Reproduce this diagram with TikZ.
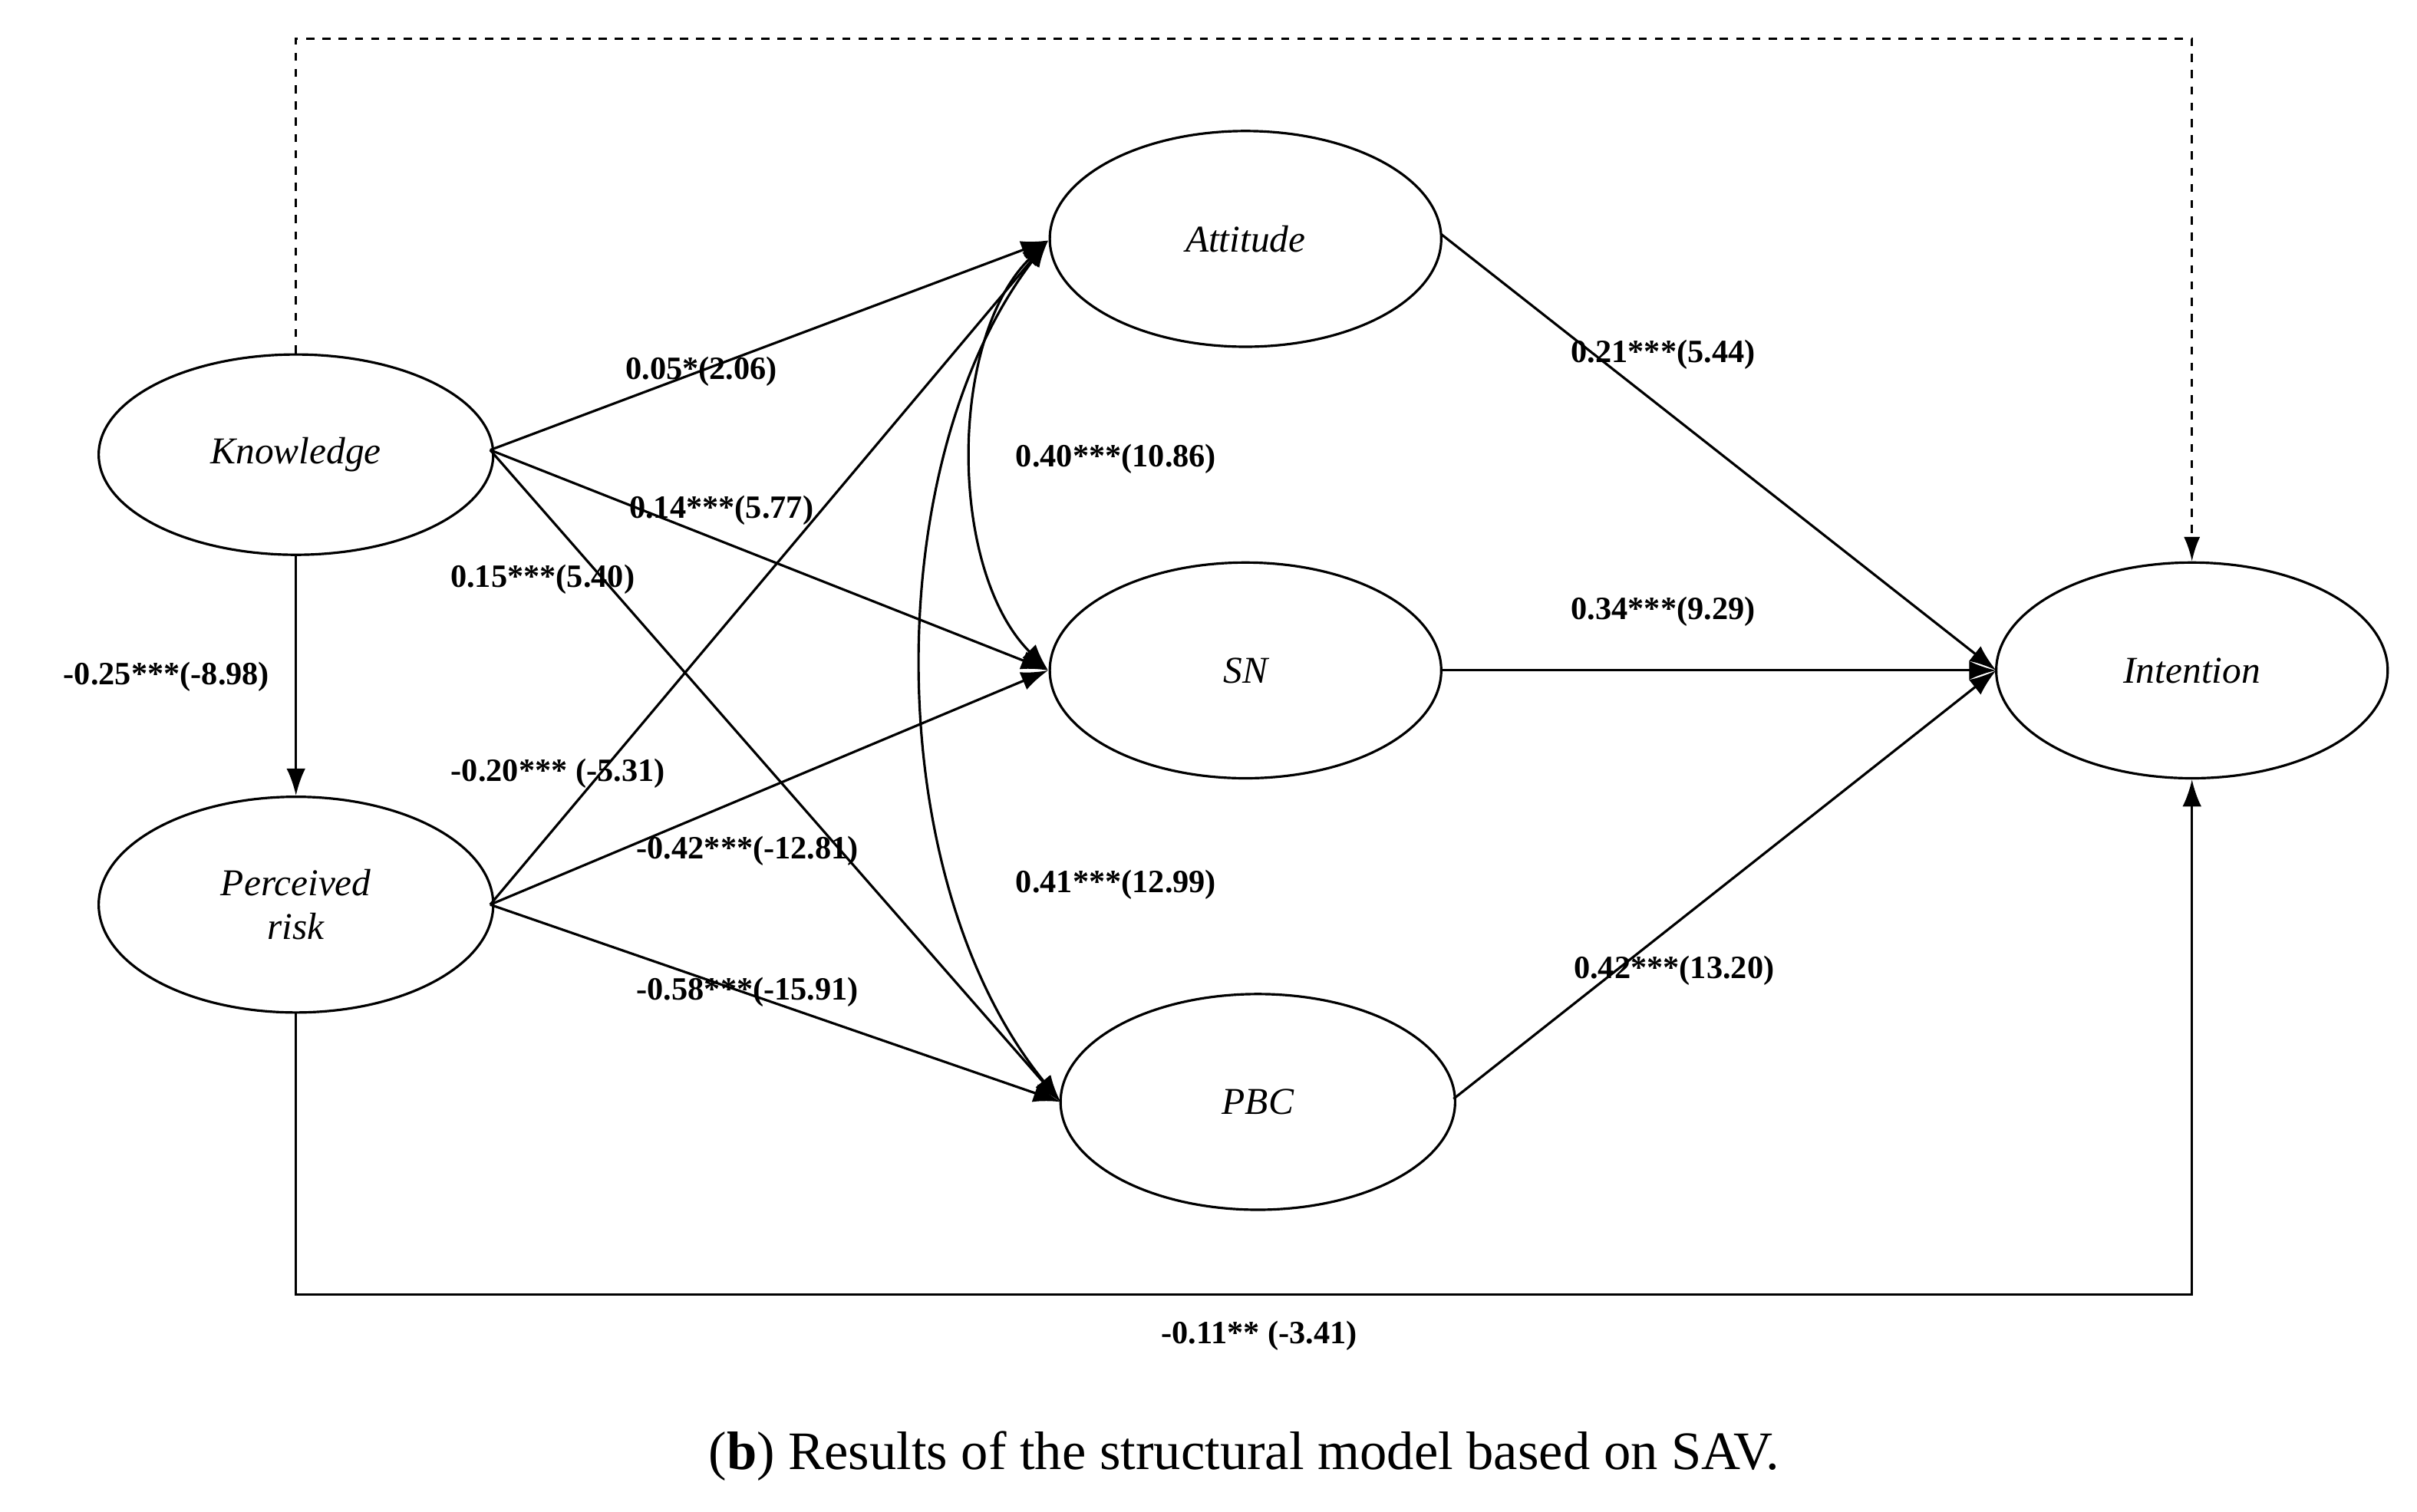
\documentclass[tikz,border=0pt]{standalone}
\usepackage{fontspec}
\setmainfont{Liberation Serif}
\usetikzlibrary{shapes.geometric,arrows.meta}
\begin{document}
\begin{tikzpicture}[x=0.02cm,y=-0.02cm,
  lv/.style={draw,ellipse,line width=0.9pt,minimum width=254\pgflinewidth,font=\fontsize{14}{16}\selectfont\itshape,align=center},
  ar/.style={line width=0.9pt,-{Latex[length=10pt,width=7pt]}},
  dar/.style={line width=0.9pt,{Latex[length=10pt,width=7pt]}-{Latex[length=10pt,width=7pt]}},
  lb/.style={font=\fontsize{12}{14}\selectfont\bfseries}]
\useasboundingbox (0,0) rectangle (1568,981);
\node[lv,minimum width=5.12cm,minimum height=2.6cm] (K) at (192,295) {Knowledge};
\node[lv,minimum width=5.12cm,minimum height=2.8cm] (P) at (192,587) {Perceived\\risk};
\node[lv,minimum width=5.08cm,minimum height=2.8cm] (A) at (808,155) {Attitude};
\node[lv,minimum width=5.08cm,minimum height=2.8cm] (S) at (808,435) {SN};
\node[lv,minimum width=5.12cm,minimum height=2.8cm] (B) at (816,715) {PBC};
\node[lv,minimum width=5.08cm,minimum height=2.8cm] (I) at (1422,435) {Intention};
\coordinate (a1) at (680,156);
\coordinate (s1) at (680,435);
\coordinate (b1) at (688,715);
\coordinate (k1) at (318,292);
\coordinate (p1) at (318,587);
\coordinate (i1) at (1295,435);
\draw[line width=0.9pt,dashed,-{Latex[length=9pt,width=6pt]}] (K.north) -- (192,25) -- (1422,25) -- (I.north);
\draw[ar] (P.south) -- (192,840) -- (1422,840) -- (I.south);
\draw[ar] (K.south) -- (P.north);
\draw[ar] (k1) -- (a1);
\draw[ar] (k1) -- (s1);
\draw[ar] (k1) -- (b1);
\draw[ar] (p1) -- (a1);
\draw[ar] (p1) -- (s1);
\draw[ar] (p1) -- (b1);
\draw[ar] (935,152) -- (i1);
\draw[ar] (S.east) -- (i1);
\draw[ar] (943,713) -- (i1);
\draw[dar] (a1) .. controls (615,220) and (615,370) .. (s1);
\draw[dar] (a1) .. controls (570,300) and (570,570) .. (b1);
\node[lb] (l1) at (455,241) {0.05*(2.06)};
\node[lb] (l2) at (468,331) {0.14***(5.77)};
\node[lb] (l3) at (352,376) {0.15***(5.40)};
\node[lb] (l4) at (108,439) {-0.25***(-8.98)};
\node[lb] (l5) at (362,502) {-0.20*** (-5.31)};
\node[lb] (l6) at (485,552) {-0.42***(-12.81)};
\node[lb] (l7) at (485,644) {-0.58***(-15.91)};
\node[lb] (l8) at (724,298) {0.40***(10.86)};
\node[lb] (l9) at (724,574) {0.41***(12.99)};
\node[lb] (l10) at (1079,230) {0.21***(5.44)};
\node[lb] (l11) at (1079,397) {0.34***(9.29)};
\node[lb] (l12) at (1086,630) {0.42***(13.20)};
\node[lb] (l13) at (817,867) {-0.11** (-3.41)};
\node[font=\fontsize{20}{24}\selectfont] (cap) at (807,945) {(\textbf{b}) Results of the structural model based on SAV.};
\end{tikzpicture}
\end{document}
